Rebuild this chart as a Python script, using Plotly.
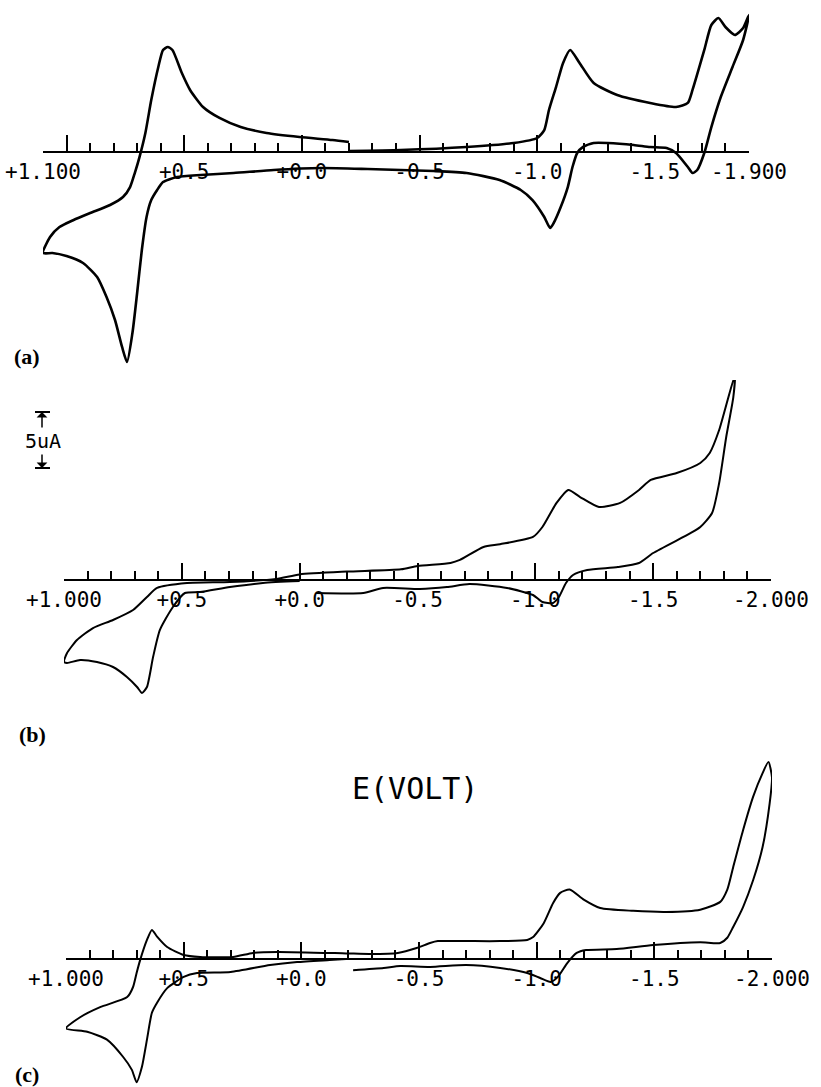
import plotly.graph_objects as go

# ---------------- data (potential in V, current in arbitrary uA units) ----------------
# Panel (a)
E_a = [-0.20, -0.42, -0.70, -0.90, -1.00, -1.03, -1.05, -1.08, -1.11, -1.14, -1.18, -1.24,
       -1.34, -1.48, -1.59, -1.64, -1.66, -1.71, -1.74, -1.77, -1.80, -1.84, -1.875, -1.90,
       -1.875, -1.83, -1.78, -1.74, -1.71, -1.68, -1.66, -1.64, -1.59, -1.55, -1.48, -1.41,
       -1.30, -1.24, -1.195, -1.17, -1.15, -1.13, -1.10, -1.07, -1.055, -1.03, -0.98, -0.93,
       -0.84, -0.70, -0.56, -0.42, -0.28, -0.08, 0.12, 0.29, 0.43, 0.53, 0.59, 0.615,
       0.64, 0.66, 0.68, 0.70, 0.72, 0.743, 0.764, 0.794, 0.83, 0.87, 0.93, 1.00, 1.06, 1.10,
       1.07, 1.03, 0.97, 0.90, 0.815, 0.76, 0.73, 0.71, 0.69, 0.665, 0.64, 0.61,
       0.59, 0.57, 0.55, 0.51, 0.475, 0.42, 0.35, 0.26, 0.15, 0.01, -0.13, -0.20]
I_a = [0.09, 0.18, 0.45, 0.80, 1.25, 1.96, 3.75, 5.80, 7.95, 9.11, 7.95, 6.16,
       5.09, 4.38, 4.02, 4.38, 5.54, 9.11, 11.34, 11.96, 11.16, 10.45, 11.07, 12.23,
       10.0, 7.59, 4.91, 2.23, -0.09, -1.61, -1.88, -1.34, -0.09, 0.36, 0.45, 0.63,
       0.80, 0.80, 0.45, -0.09, -1.34, -3.13, -4.91, -6.34, -6.79, -5.80, -4.29, -3.39,
       -2.50, -1.88, -1.70, -1.61, -1.52, -1.43, -1.61, -1.88, -2.05, -2.23, -2.68, -3.39,
       -4.29, -5.80, -8.75, -12.59, -16.16, -18.75, -17.41, -15.0, -12.95, -11.16, -9.91, -9.29, -9.02, -9.02,
       -7.59, -6.70, -6.07, -5.45, -4.73, -4.02, -3.13, -1.88, -0.45, 1.70, 4.64, 7.59,
       9.11, 9.38, 9.11, 7.05, 5.54, 4.02, 3.04, 2.23, 1.70, 1.34, 1.07, 0.89]

# Panel (b)
E_b = [0.0, 0.156, 0.296, 0.423, 0.487, 0.538, 0.593, 0.622, 0.648, 0.669, 0.69, 0.733,
       0.792, 0.86, 0.932, 0.987, 1.0,
       0.987, 0.945, 0.877, 0.792, 0.707, 0.648, 0.605, 0.478, 0.296, 0.10, 0.0, -0.2,
       -0.43, -0.50, -0.64, -0.68, -0.78, -0.85, -0.99, -1.03, -1.09, -1.14, -1.19, -1.27,
       -1.36, -1.44, -1.49, -1.60, -1.70, -1.74, -1.78, -1.847,
       -1.84, -1.81, -1.78, -1.75, -1.70, -1.66, -1.50, -1.44, -1.35, -1.22, -1.16, -1.13,
       -1.10, -1.075, -1.03, -0.99, -0.88, -0.72, -0.625, -0.51, -0.354, -0.27, -0.07]
I_b = [-0.10, -0.27, -0.63, -1.07, -1.16, -2.41, -4.46, -6.88, -9.55, -10.09, -9.55, -8.66,
       -7.77, -7.32, -7.14, -7.41, -7.30,
       -6.52, -5.36, -4.29, -3.57, -2.68, -1.52, -0.71, -0.27, -0.18, 0.10, 0.50, 0.75,
       0.95, 1.25, 1.52, 1.79, 2.95, 3.20, 3.84, 4.73, 6.88, 8.04, 7.41, 6.52,
       6.88, 8.04, 8.93, 9.55, 10.45, 11.34, 13.39, 18.3,
       16.3, 12.77, 8.66, 5.98, 4.73, 4.20, 2.41, 1.52, 1.16, 0.89, 0.45, -0.27,
       -1.52, -2.05, -1.96, -1.34, -0.71, -0.36, -0.63, -0.80, -0.71, -1.16, -1.16]

# Panel (c)
E_c = [-0.19, -0.12, 0.018, 0.133, 0.30, 0.443, 0.50, 0.57, 0.613, 0.635, 0.656, 0.677,
       0.70, 0.72, 0.757, 0.826, 0.91, 1.0,
       0.94, 0.855, 0.74, 0.715, 0.70, 0.685, 0.656, 0.635, 0.613, 0.57, 0.50, 0.43,
       0.29, 0.205, 0.10, -0.19, -0.29, -0.41, -0.49, -0.547, -0.58, -0.70, -0.845, -0.96,
       -0.985, -1.03, -1.07, -1.10, -1.14, -1.20, -1.27, -1.41, -1.55, -1.695, -1.78, -1.81,
       -1.835, -1.877, -1.92, -1.96, -1.985,
       -2.0, -1.99, -1.96, -1.92, -1.877, -1.835, -1.81, -1.78, -1.695, -1.495, -1.34, -1.21,
       -1.17, -1.13, -1.09, -1.06, -1.015, -0.96, -0.845, -0.70, -0.547, -0.42, -0.35, -0.22]
I_c = [0.0, -0.09, -0.27, -0.54, -1.16, -1.25, -1.60, -2.60, -3.90, -4.80, -7.20, -9.60,
       -11.0, -9.90, -8.75, -7.20, -6.50, -6.20,
       -5.20, -4.30, -3.40, -2.50, -1.25, -0.10, 1.70, 2.60, 2.00, 1.07, 0.36, 0.18,
       0.18, 0.54, 0.63, 0.50, 0.45, 0.54, 0.98, 1.43, 1.60, 1.60, 1.60, 1.70,
       1.96, 3.20, 5.00, 5.90, 6.20, 5.30, 4.55, 4.30, 4.20, 4.40, 5.10, 6.20,
       8.20, 11.5, 14.5, 16.6, 17.6,
       16.2, 13.9, 10.0, 7.05, 4.64, 2.86, 1.90, 1.43, 1.50, 1.25, 0.89, 0.80,
       0.54, -0.36, -1.60, -2.05, -1.70, -1.25, -0.80, -0.54, -0.71, -0.63, -0.80, -1.00]

assert len(E_a) == len(I_a), (len(E_a), len(I_a))
assert len(E_b) == len(I_b), (len(E_b), len(I_b))
assert len(E_c) == len(I_c), (len(E_c), len(I_c))

ticks_a = [1.1, 1.0, 0.5, 0.0, -0.5, -1.0, -1.5, -1.9]
labels_a = ["+1.100", "", "+0.5", "+0.0", "-0.5", "-1.0", "-1.5", "-1.900"]
ticks_bc = [1.0, 0.5, 0.0, -0.5, -1.0, -1.5, -2.0]
labels_bc = ["+1.000", "+0.5", "+0.0", "-0.5", "-1.0", "-1.5", "-2.000"]

# ---------------- layout geometry (pixels) ----------------
W, H = 821, 1087
PX_PER_UNIT = 11.2  # vertical pixels per current unit

panels = [
    dict(xl=43, xr=749, ay=152, top=0, bot=380, rng=(1.1, -1.9), E=E_a, I=I_a,
         tv=ticks_a, tt=labels_a, lw=2.6),
    dict(xl=64, xr=771, ay=580, top=380, bot=720, rng=(1.0, -2.0), E=E_b, I=I_b,
         tv=ticks_bc, tt=labels_bc, lw=2.0),
    dict(xl=66, xr=772, ay=959, top=720, bot=1087, rng=(1.0, -2.0), E=E_c, I=I_c,
         tv=ticks_bc, tt=labels_bc, lw=2.0),
]

MONO = "DejaVu Sans Mono"
fig = go.Figure()
layout = dict(width=W, height=H, margin=dict(l=0, r=0, t=0, b=0, pad=0, autoexpand=False),
              template="none",
              paper_bgcolor="white", plot_bgcolor="rgba(0,0,0,0)", showlegend=False)

for k, p in enumerate(panels):
    n = k + 1
    sfx = "" if n == 1 else str(n)
    xd = [p["xl"] / W, p["xr"] / W]
    yd = [1 - p["bot"] / H, 1 - p["top"] / H]
    ytop = (p["ay"] - p["top"]) / PX_PER_UNIT
    ybot = (p["ay"] - p["bot"]) / PX_PER_UNIT
    pos = 1 - p["ay"] / H
    fig.add_trace(go.Scatter(x=p["E"], y=p["I"], mode="lines",
                             line=dict(color="black", width=p["lw"], shape="spline", smoothing=0.6),
                             xaxis="x" + sfx, yaxis="y" + sfx, hoverinfo="skip"))
    layout["xaxis" + sfx] = dict(
        domain=xd, range=list(p["rng"]), anchor="free", position=pos, automargin=False,
        showline=True, linecolor="black", linewidth=2,
        tickmode="array", tickvals=p["tv"], ticktext=p["tt"],
        ticks="inside", ticklen=16, tickwidth=2, tickcolor="black",
        tickfont=dict(family=MONO, size=21, color="black"), ticklabelstandoff=1,
        minor=dict(tickmode="linear", tick0=0, dtick=0.1, ticks="inside",
                   ticklen=8, tickwidth=2, tickcolor="black", showgrid=False),
        showgrid=False, zeroline=False, fixedrange=True,
    )
    layout["yaxis" + sfx] = dict(domain=yd, range=[ybot, ytop], visible=False,
                                 anchor="x" + sfx, fixedrange=True, automargin=False,
                                 showgrid=False, zeroline=False)
    ox = "xaxis" + str(n + 3)
    fig.add_trace(go.Scatter(x=[], y=[], xaxis="x" + str(n + 3), yaxis="y" + sfx,
                             hoverinfo="skip"))
    layout[ox] = dict(domain=xd, range=list(p["rng"]), anchor="free", position=pos,
                      overlaying="x" + sfx, showline=False, tickmode="array", automargin=False,
                      tickvals=[p["rng"][0], p["rng"][1]], ticks="inside", ticklen=22,
                      tickwidth=2, tickcolor="black", showticklabels=False,
                      showgrid=False, zeroline=False, fixedrange=True)

fig.update_layout(**layout)

def px(x, y):
    return x / W, 1 - y / H

annots = []
for txt, x, y in [("(a)", 12, 356), ("(b)", 17, 734), ("(c)", 13, 1074)]:
    ax_, ay_ = px(x, y)
    annots.append(dict(text="<b>" + txt + "</b>", x=ax_, y=ay_, xref="paper", yref="paper",
                       xanchor="left", yanchor="middle", showarrow=False,
                       font=dict(family="Liberation Serif", size=22, color="black")))
cx, cy = px(415, 788)
annots.append(dict(text="E(VOLT)", x=cx, y=cy, xref="paper", yref="paper",
                   xanchor="center", yanchor="middle", showarrow=False,
                   font=dict(family=MONO, size=30, color="black")))
sx, sy = px(43, 441)
annots.append(dict(text="5uA", x=sx, y=sy, xref="paper", yref="paper",
                   xanchor="center", yanchor="middle", showarrow=False,
                   font=dict(family=MONO, size=20, color="black")))
for (y_tip, y_tail) in [(412, 429), (468, 453)]:
    tx, ty = px(42, y_tip)
    annots.append(dict(text="", x=tx, y=ty, xref="paper", yref="paper",
                       ax=0, ay=(y_tail - y_tip), showarrow=True, arrowhead=1,
                       arrowsize=1.2, arrowwidth=1.5, arrowcolor="black"))
fig.update_layout(annotations=annots)

shapes = []
for yb in [412, 468]:
    x0, y0 = px(35, yb)
    x1, _ = px(50, yb)
    shapes.append(dict(type="line", xref="paper", yref="paper", x0=x0, x1=x1, y0=y0, y1=y0,
                       line=dict(color="black", width=2)))
fig.update_layout(shapes=shapes)

fig.write_html("out.html", config={"displayModeBar": False},
               post_script="document.body.style.margin='0px';")
